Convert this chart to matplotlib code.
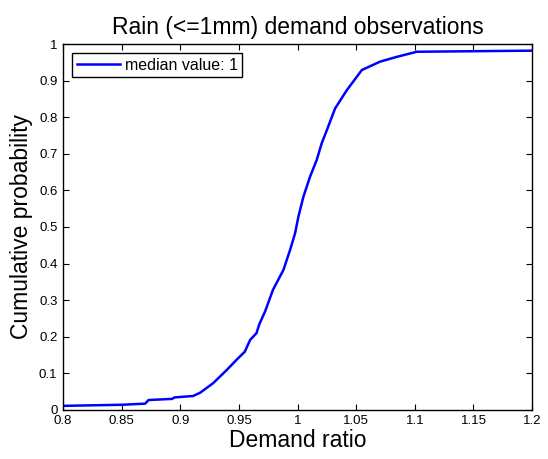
import numpy as np
import matplotlib
matplotlib.use('Agg')
import matplotlib.pyplot as plt

ratio = [0.800, 0.850, 0.870, 0.873, 0.893, 0.895, 0.911, 0.917, 0.928, 0.9396,
         0.948, 0.955, 0.9595, 0.965, 0.9675, 0.9723, 0.979, 0.988, 0.9936, 0.9979,
         1.0007, 1.005, 1.0106, 1.0163, 1.0206, 1.025, 1.032, 1.042, 1.0548, 1.0704,
         1.0846, 1.1017, 1.200]
cum_prob = [0.011, 0.014, 0.017, 0.027, 0.030, 0.034, 0.038, 0.047, 0.073, 0.109,
            0.137, 0.159, 0.191, 0.210, 0.235, 0.269, 0.328, 0.383, 0.437, 0.483,
            0.528, 0.583, 0.637, 0.683, 0.729, 0.765, 0.824, 0.874, 0.929, 0.952,
            0.965, 0.979, 0.982]
median_val = 1

plt.rcParams['font.family'] = ['Liberation Sans', 'DejaVu Sans']

fig = plt.figure(figsize=(5.48, 4.59), dpi=100)
ax = fig.add_axes([0.115, 0.107, 0.856, 0.797])
ax.plot(ratio, cum_prob, color='#0000ff', lw=1.8, label='median value: %g' % median_val)

ax.set_xlim(0.8, 1.2)
ax.set_ylim(0, 1)
ax.set_xticks(np.arange(0.8, 1.2001, 0.05))
ax.set_yticks(np.arange(0, 1.0001, 0.1))
ax.set_xticklabels(['0.8', '0.85', '0.9', '0.95', '1', '1.05', '1.1', '1.15', '1.2'])
ax.set_yticklabels(['0', '0.1', '0.2', '0.3', '0.4', '0.5', '0.6', '0.7', '0.8', '0.9', '1'])
ax.tick_params(direction='in', top=True, right=True, labelsize=9.5, length=4)
ax.tick_params(axis='x', pad=4)
ax.tick_params(axis='y', pad=4)
for s in ax.spines.values():
    s.set_linewidth(1.0)

ax.set_title('Rain (<=1mm) demand observations', fontsize=16.5, pad=7)
ax.set_xlabel('Demand ratio', fontsize=16.5, labelpad=1)
ax.set_ylabel('Cumulative probability', fontsize=16.5, labelpad=4)

leg = ax.legend(loc='upper left', fontsize=11.5, fancybox=False, framealpha=1,
                edgecolor='black', borderaxespad=0.55, borderpad=0.3,
                handlelength=2.7, handletextpad=0.3)
leg.get_frame().set_linewidth(1.0)

fig.savefig('out.png', dpi=100)
